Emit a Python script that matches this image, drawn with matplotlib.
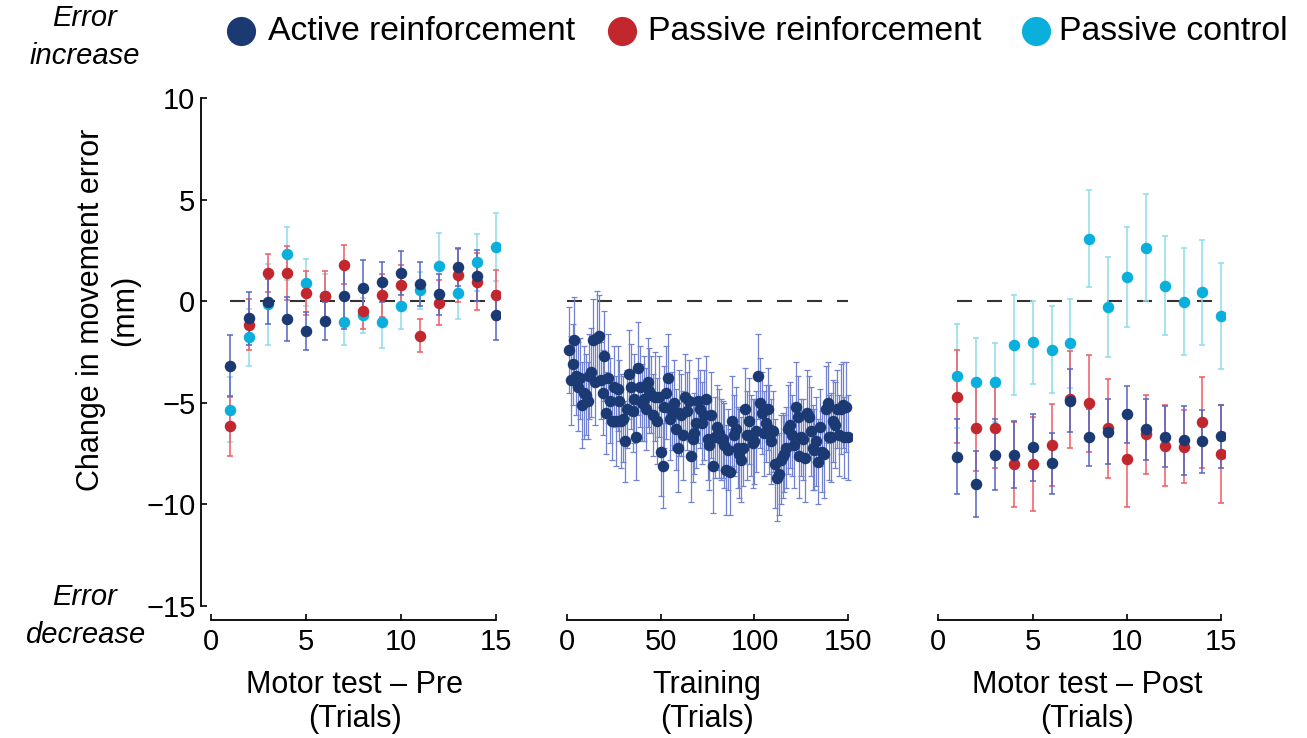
import matplotlib
matplotlib.use('Agg')
import matplotlib.pyplot as plt
from matplotlib.lines import Line2D

plt.rcParams['font.family'] = ['Liberation Sans', 'DejaVu Sans']

# motor test pre (trials 1-15)
pre_trials = list(range(1, 16))
pre_active = [-3.18, -0.85, -0.03, -0.88, -1.46, -0.97, 0.25, 0.65, 0.95, 1.39, 0.85, 0.34, 1.69, 1.26, -0.69]
pre_active_err = [1.5, 1.3, 1.1, 1.1, 0.95, 0.95, 1.6, 1.4, 1.0, 1.1, 1.1, 1.0, 0.95, 1.25, 1.2]
pre_passive = [-6.16, -1.15, 1.38, 1.39, 0.41, 0.28, 1.8, -0.46, 0.29, 0.79, -1.69, -0.07, 1.28, 0.95, 0.31]
pre_passive_err = [1.45, 1.25, 0.95, 1.35, 1.1, 1.2, 0.95, 0.9, 1.05, 1.0, 0.8, 1.1, 1.3, 1.4, 1.25]
pre_control = [-5.34, -1.78, -0.15, 2.33, 0.92, 0.25, -1.02, -0.69, -1.02, -0.25, 0.54, 1.72, 0.41, 1.92, 2.67]
pre_control_err = [1.6, 1.4, 2.0, 1.3, 1.17, 1.1, 1.15, 0.85, 1.3, 1.1, 0.9, 1.65, 1.3, 1.4, 1.65]

# training (trials 1-150, active reinforcement only)
train_trials = list(range(1, 151))
train_active = [
    -2.4, -3.9, -3.1, -1.9, -3.7, -4.2, -3.8, -5.1, -4.5, -4.6,
    -4.9, -3.7, -3.5, -1.9, -4.0, -1.8, -1.7, -3.9, -4.5, -2.7,
    -5.5, -3.8, -4.9, -5.9, -4.2, -5.9, -4.3, -4.9, -5.9, -5.8,
    -6.9, -5.3, -3.6, -4.2, -5.4, -4.8, -6.7, -3.3, -4.2, -5.0,
    -4.8, -5.3, -4.0, -4.4, -4.6, -5.6, -4.7, -5.9, -4.7, -7.4,
    -8.1, -5.2, -4.5, -3.8, -5.8, -5.4, -5.0, -6.3, -7.2, -5.5,
    -5.6, -6.6, -4.7, -5.4, -4.9, -7.6, -6.8, -6.5, -6.0, -4.9,
    -5.3, -6.0, -5.6, -4.8, -6.8, -7.1, -5.6, -8.1, -6.7, -6.2,
    -6.5, -6.8, -6.8, -7.1, -8.3, -7.3, -8.4, -5.9, -6.6, -6.3,
    -7.2, -7.5, -7.8, -7.2, -5.3, -6.6, -5.9, -6.6, -7.0, -6.9,
    -6.4, -3.7, -5.0, -5.5, -6.5, -6.0, -5.3, -6.3, -6.9, -6.4,
    -8.0, -8.7, -8.5, -7.8, -7.6, -7.5, -7.2, -6.3, -6.1, -6.6,
    -7.1, -5.2, -5.7, -7.6, -6.7, -6.8, -7.7, -5.5, -5.7, -6.4,
    -7.2, -7.3, -6.9, -7.9, -6.2, -7.4, -7.5, -5.3, -5.0, -6.7,
    -6.7, -5.9, -6.1, -5.3, -6.6, -5.3, -5.1, -6.7, -5.2, -6.7,
]
train_active_err = [
    2.1, 2.2, 2.0, 2.1, 1.9, 2.2, 2.0, 2.1, 2.3, 2.0,
    1.9, 2.1, 2.2, 2.0, 2.1, 2.3, 2.0, 1.9, 2.1, 2.2,
    2.0, 2.2, 2.1, 1.9, 2.0, 2.2, 2.1, 2.0, 2.3, 2.1,
    2.0, 1.9, 2.2, 2.1, 2.0, 2.2, 2.1, 2.3, 2.0, 1.9,
    2.1, 2.0, 2.2, 2.1, 1.9, 2.0, 2.2, 2.1, 2.0, 2.2,
    2.1, 2.0, 2.3, 2.2, 2.0, 1.9, 2.1, 2.0, 2.2, 2.1,
    2.0, 2.2, 2.1, 1.9, 2.0, 2.3, 2.1, 2.0, 2.2, 2.1,
    1.9, 2.0, 2.2, 2.1, 2.0, 2.2, 2.1, 2.3, 2.0, 2.1,
    2.2, 2.0, 1.9, 2.1, 2.2, 2.0, 2.1, 2.2, 2.0, 2.1,
    2.0, 2.2, 2.1, 1.9, 2.0, 2.2, 2.1, 2.0, 2.2, 2.1,
    2.0, 2.1, 2.2, 2.0, 2.1, 1.9, 2.0, 2.2, 2.1, 2.0,
    2.2, 2.1, 2.0, 2.2, 2.1, 1.9, 2.0, 2.2, 2.1, 2.0,
    2.1, 2.2, 2.0, 2.1, 1.9, 2.0, 2.2, 2.1, 2.0, 2.2,
    2.1, 2.0, 2.2, 2.1, 1.9, 2.0, 2.2, 2.1, 2.0, 2.1,
    2.2, 2.0, 2.1, 1.9, 2.0, 2.2, 2.1, 2.0, 2.2, 2.1,
]

# motor test post (trials 1-15)
post_trials = list(range(1, 16))
post_active = [-7.65, -9.0, -7.55, -7.55, -7.19, -7.98, -4.9, -6.7, -6.42, -5.57, -6.31, -6.67, -6.85, -6.9, -6.64]
post_active_err = [1.85, 1.64, 1.75, 1.65, 1.65, 1.5, 1.55, 1.4, 1.6, 1.4, 1.5, 1.5, 1.7, 1.55, 1.55]
post_passive = [-4.7, -6.26, -6.22, -8.03, -8.01, -7.08, -4.83, -5.03, -6.26, -7.78, -6.55, -7.11, -7.16, -5.96, -7.52]
post_passive_err = [2.3, 2.1, 2.0, 2.1, 2.3, 2.0, 2.4, 2.4, 2.45, 2.35, 1.95, 2.0, 1.8, 2.25, 2.4]
post_control = [-3.69, -4.0, -4.0, -2.15, -2.03, -2.39, -2.08, 3.08, -0.29, 1.2, 2.64, 0.77, -0.02, 0.43, -0.74]
post_control_err = [2.56, 2.2, 1.95, 2.45, 2.05, 2.15, 2.2, 2.4, 2.45, 2.45, 2.65, 2.45, 2.65, 2.6, 2.6]

navy = '#1b3a73'
red = '#c1272d'
cyan = '#0aafdc'
navy_err = '#5566c4'
red_err = '#f05a66'
cyan_err = '#8ddcec'

W, H = 1307, 738
fig = plt.figure(figsize=(W / 100, H / 100), dpi=100)

def px_axes(x0, x1):
    # axes box in pixels: y from 94 (top) to 620 (bottom)
    return fig.add_axes([x0 / W, (H - 620) / H, (x1 - x0) / W, (620 - 94) / H])

ax1 = px_axes(201, 500)
ax2 = px_axes(557, 852)
ax3 = px_axes(928, 1225)

ylo, yhi = -15.69, 10.2
ax1.set_xlim(-0.53, 15.2)
ax2.set_xlim(-5.3, 152)
ax3.set_xlim(-0.55, 15.2)

def errs(ax, x, y, e, c, ec, lw=1.1):
    ax.errorbar(x, y, yerr=e, fmt='o', color=c, ms=8.3, mec='none',
                ecolor=ec, elinewidth=lw, capsize=2.2, capthick=lw, zorder=3)

for ax, tr, a, ae, p, pe, c, ce in [
        (ax1, pre_trials, pre_active, pre_active_err, pre_passive, pre_passive_err, pre_control, pre_control_err),
        (ax3, post_trials, post_active, post_active_err, post_passive, post_passive_err, post_control, post_control_err)]:
    ax.plot([1, 14.6], [0, 0], color='#333333', lw=1.5, dashes=(7.2, 7.2), zorder=2)
    errs(ax, tr, c, ce, cyan, cyan_err)
    errs(ax, tr, p, pe, red, red_err)
    errs(ax, tr, a, ae, navy, navy_err)

ax2.plot([0, 150], [0, 0], color='#333333', lw=1.5, dashes=(7.2, 7.2), zorder=2)
ax2.errorbar(train_trials, train_active, yerr=train_active_err, fmt='o', color=navy,
             ms=8.3, mec='none', ecolor='#7282cf', elinewidth=0.9, capsize=2.0,
             capthick=0.9, zorder=3)

for ax in (ax1, ax2, ax3):
    ax.set_ylim(ylo, yhi)
    ax.patch.set_visible(False)
    ax.spines['top'].set_visible(False)
    ax.spines['right'].set_visible(False)
    ax.spines['bottom'].set_linewidth(1.3)
    ax.tick_params(axis='x', direction='in', length=4, width=1.2, labelsize=21, pad=6)

ax1.spines['left'].set_bounds(-15, 10)
ax1.spines['left'].set_linewidth(1.3)
ax1.set_yticks([-15, -10, -5, 0, 5, 10])
ax1.tick_params(axis='y', direction='in', length=4, width=1.2, labelsize=21, pad=4)
for ax in (ax2, ax3):
    ax.spines['left'].set_visible(False)
    ax.set_yticks([])

ax1.spines['bottom'].set_bounds(0, 15)
ax1.set_xticks([0, 5, 10, 15])
ax2.spines['bottom'].set_bounds(0, 150)
ax2.set_xticks([0, 50, 100, 150])
ax3.spines['bottom'].set_bounds(0, 15)
ax3.set_xticks([0, 5, 10, 15])

def ftext(x, y, s, **kw):
    fig.text(x / W, 1 - y / H, s, **kw)

# axis labels
ftext(355, 702, 'Motor test \u2013 Pre\n(Trials)', ha='center', va='center', fontsize=22, linespacing=1.2)
ftext(707, 702, 'Training\n(Trials)', ha='center', va='center', fontsize=22, linespacing=1.2)
ftext(1087, 702, 'Motor test \u2013 Post\n(Trials)', ha='center', va='center', fontsize=22, linespacing=1.2)
ftext(108, 310, 'Change in movement error\n(mm)', ha='center', va='center', rotation=90,
      fontsize=22, linespacing=1.2)

ftext(85, 37, 'Error\nincrease', ha='center', va='center', fontsize=21, style='italic', linespacing=1.45)
ftext(85, 616, 'Error\ndecrease', ha='center', va='center', fontsize=21, style='italic', linespacing=1.45)

# legend across the top
leg_items = [('Active reinforcement', navy, 241, 268),
             ('Passive reinforcement', red, 622, 648),
             ('Passive control', cyan, 1036, 1059)]
for label, col, mx, tx in leg_items:
    fig.add_artist(Line2D([mx / W], [1 - 31 / H], marker='o', ms=21, color=col, mec='none',
                          transform=fig.transFigure))
    ftext(tx, 31, label, ha='left', va='center', fontsize=24.3)

fig.savefig('out.png', dpi=100)
